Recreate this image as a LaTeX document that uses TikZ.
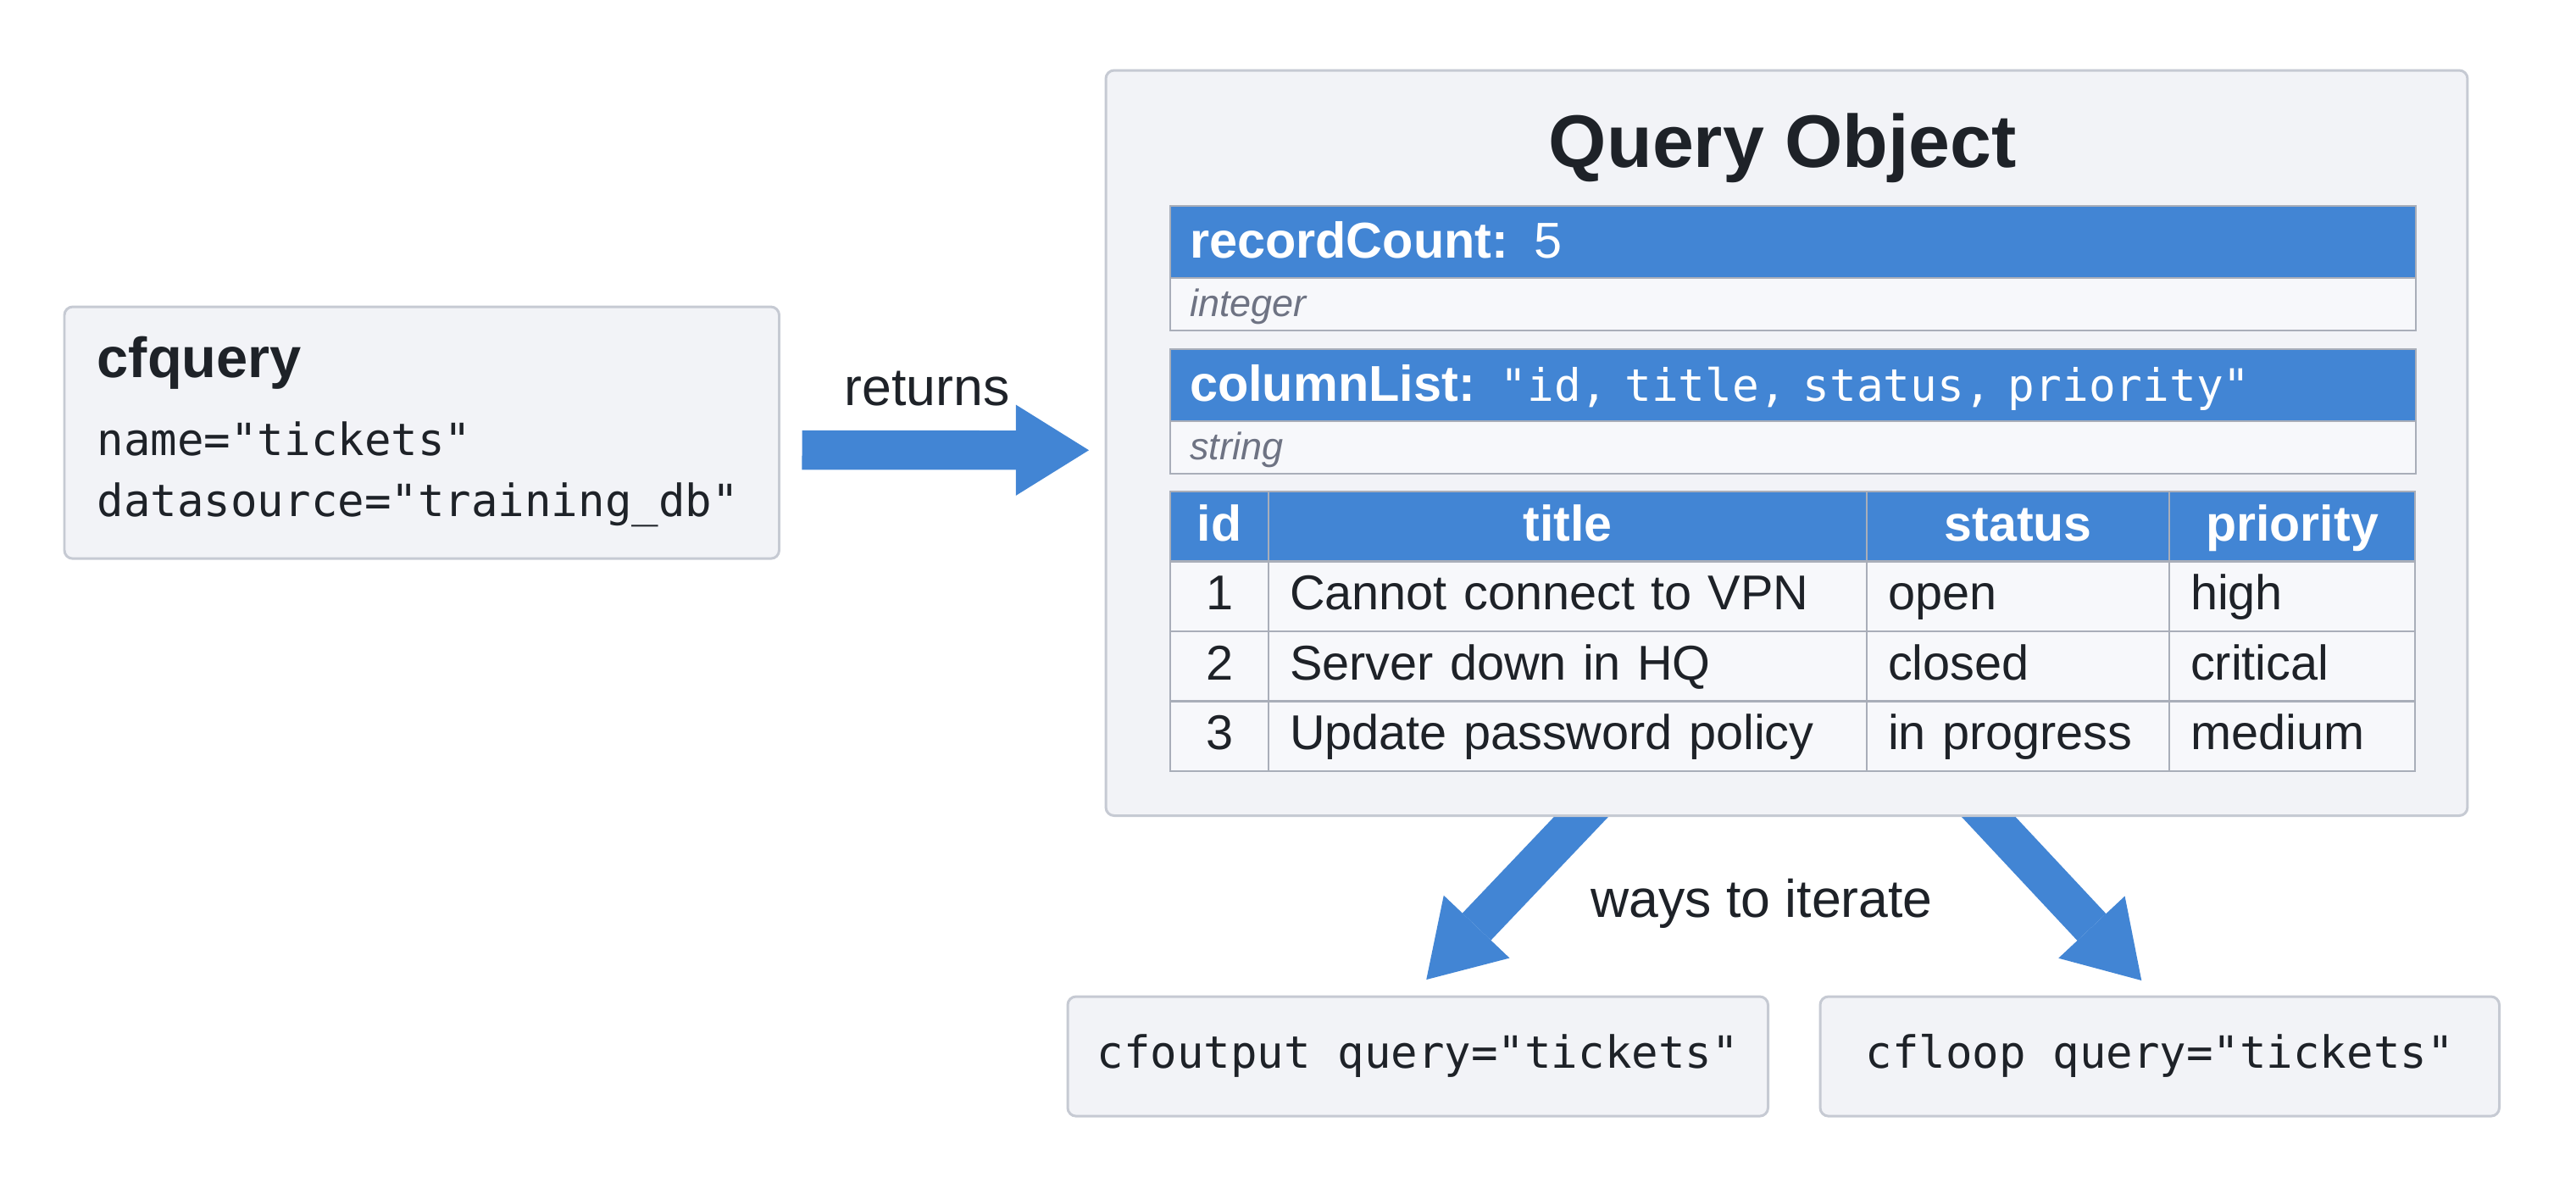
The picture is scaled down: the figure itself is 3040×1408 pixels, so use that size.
\documentclass[tikz,border=0pt]{standalone}
\usepackage{fontspec}
\setmainfont{Liberation Sans}
\setmonofont{DejaVu Sans Mono}
\usetikzlibrary{arrows.meta,backgrounds,positioning}

\definecolor{qblue}{HTML}{4285D4}
\definecolor{boxfill}{HTML}{F2F3F7}
\definecolor{boxline}{HTML}{C6CAD3}
\definecolor{gridline}{HTML}{A9AEB9}
\definecolor{cellfill}{HTML}{F7F8FB}
\definecolor{ink}{HTML}{1E2228}
\definecolor{typegray}{HTML}{6E7383}

\tikzset{
  txt/.style={inner sep=0pt, text=ink},
  note/.style={txt, anchor=base, font=\fontsize{17.8}{21}\selectfont},
  panel/.style={draw=boxline, line width=0.85pt, fill=boxfill, rounded corners=2.8pt,
    anchor=north west, inner sep=0pt, outer sep=0pt},
  code/.style={font=\ttfamily\fontsize{14.9}{18}\selectfont, text=ink},
  band/.style={draw=gridline, line width=0.7pt, fill=qblue, text=white, anchor=north west,
    inner xsep=0.23cm, inner ysep=0pt, outer sep=0pt, text width=14.23cm, align=left,
    minimum height=0.85cm, text height=1.26em, text depth=0.2em,
    font=\fontsize{16.9}{20}\selectfont},
  typerow/.style={draw=gridline, line width=0.7pt, fill=cellfill, text=typegray,
    inner xsep=0.23cm, inner ysep=0pt, outer sep=0pt, text width=14.23cm, align=left,
    minimum height=0.62cm, text height=1.03em, text depth=0.2em,
    font=\itshape\fontsize{12.8}{15}\selectfont},
  cell/.style={draw=gridline, line width=0.7pt, fill=cellfill, text=ink, anchor=north west,
    inner xsep=0.25cm, inner ysep=0pt, outer sep=0pt, minimum height=0.825cm,
    text height=1.1em, text depth=0.2em, align=left},
  head/.style={fill=qblue, text=white, align=center, text height=1.18em, text depth=0.2em,
    font=\bfseries\fontsize{16.8}{20}\selectfont},
  flow/.style={draw=qblue, line width=13.2pt,
    -{Triangle[length=24.5pt,width=30.5pt,line width=0pt]}},
}

\begin{document}
\begin{tikzpicture}[x=0.01cm,y=-0.01cm,font=\fontsize{16.4}{19}\selectfont]
  \useasboundingbox (0,0) rectangle (3040,1408);

  % cfquery tag
  \node[panel, minimum width=8.43cm, minimum height=2.97cm] (cfq) at (76,362) {};
  \node[txt, anchor=base west, font=\bfseries\fontsize{19}{22}\selectfont] (cfqtitle)
    at (114,445) {cfquery};
  \node[txt, code, anchor=base west] (cfqname) at (114,537) {name="tickets"};
  \node[txt, code, anchor=base west] (cfqsrc) at (114,609) {datasource="training\_db"};
  \node[note] (ret) at (1094,478) {returns};

  % the query object
  \node[panel, minimum width=16.06cm, minimum height=8.79cm] (qo) at (1305,83) {};
  \node[txt, anchor=base, font=\bfseries\fontsize{25}{30}\selectfont] (qotitle)
    at (2104,197) {Query Object};
  \node[band] (rc) at (1381,243) {\textbf{recordCount:} 5};
  \node[typerow, below=0pt of rc] (rctype) {integer};
  \node[band] (cl) at (1381,412)
    {\textbf{columnList:} {\ttfamily\fontsize{15}{17}\selectfont"id, title, status, priority"}};
  \node[typerow, below=0pt of cl] (cltype) {string};

  % result table
  \foreach \x/\tw/\lab [count=\c] in {1381/0.66/id, 1497/6.56/title,
      2203/3.07/status, 2560/2.40/priority}
    \node[cell, head, text width=\tw cm] (head-\c) at (\x,580) {\lab};
  \foreach \id/\ti/\st/\pr [count=\row] in {1/Cannot connect to VPN/open/high,
      2/Server down in HQ/closed/critical, 3/Update password policy/in progress/medium} {
    \pgfmathsetmacro{\rowtop}{580+82.5*\row}
    \node[cell, align=center, text width=0.66cm] (row\row-id) at (1381,\rowtop) {\id};
    \node[cell, text width=6.56cm] (row\row-title) at (1497,\rowtop) {\ti};
    \node[cell, text width=3.07cm] (row\row-status) at (2203,\rowtop) {\st};
    \node[cell, text width=2.40cm] (row\row-prio) at (2560,\rowtop) {\pr};
  }

  % iteration tags
  \node[note] (ways) at (2079,1082) {ways to iterate};
  \node[panel, code, minimum width=8.26cm, minimum height=1.41cm,
    text height=0.99em, text depth=0.2em] (outq) at (1260,1176) {cfoutput query="tickets"};
  \node[panel, code, minimum width=8.01cm, minimum height=1.41cm,
    text height=0.99em, text depth=0.2em] (loopq) at (2148,1176) {cfloop query="tickets"};

  \begin{scope}[on background layer]
    \fill[white] (0,0) rectangle (3040,1408);
    \draw[flow] ([shift={(27,20.5)}]cfq.east) -- ([shift={(-20,8.5)}]qo.west);
    \draw[flow] ([shift={(-225,-17)}]qo.south) -- ([shift={(10,-20)}]outq.north);
    \draw[flow] ([shift={(221,-17)}]qo.south) -- ([shift={(-21.5,-19)}]loopq.north);
  \end{scope}
\end{tikzpicture}
\end{document}
